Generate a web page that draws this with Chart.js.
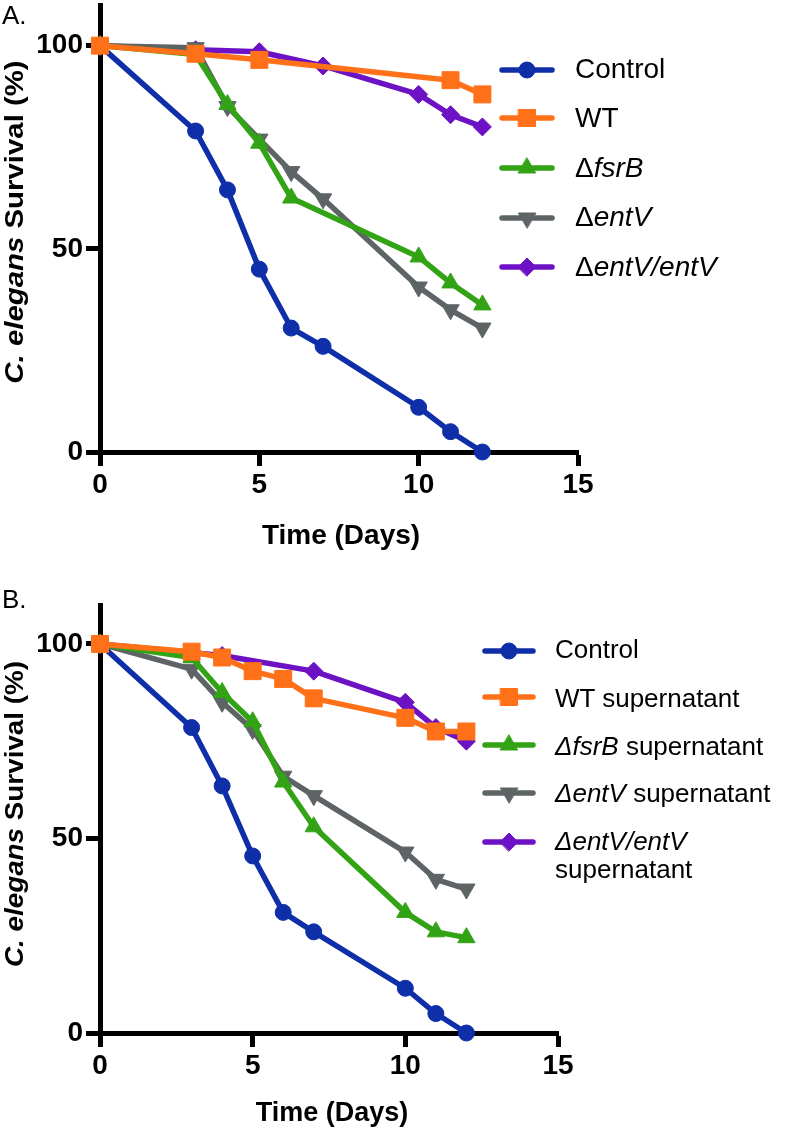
<!DOCTYPE html>
<html><head><meta charset="utf-8">
<script src="https://cdn.jsdelivr.net/npm/chart.js@4.4.1/dist/chart.umd.min.js"></script>
<style>
body{margin:0;width:793px;height:1128px;position:relative;background:#fff;font-family:'Liberation Sans',Arial,Helvetica,sans-serif;overflow:hidden}
canvas{position:absolute;left:0}
.t{position:absolute;white-space:nowrap;color:#000}
</style></head><body>
<canvas id="cA" width="793" height="564" style="top:0;width:793px;height:564px"></canvas>
<canvas id="cB" width="793" height="564" style="top:564px;width:793px;height:564px"></canvas>
<div id="overlay"></div>
<script>
// ---------- DATA ----------
const xTicks = [0, 5, 10, 15];
const yTicks = [0, 50, 100];

// Panel A
const controlA_days = [0, 3, 4, 5, 6, 7, 10, 11, 12];
const controlA_surv = [100, 79, 64.5, 45, 30.5, 26, 11, 5, 0];
const wtA_days = [0, 3, 5, 11, 12];
const wtA_surv = [100, 98, 96.5, 91.5, 88];
const fsrBA_days = [0, 3, 4, 5, 6, 10, 11, 12];
const fsrBA_surv = [100, 97.8, 85.5, 76, 62.5, 48, 41.6, 36.2];
const entVA_days = [0, 3, 4, 5, 6, 7, 10, 11, 12];
const entVA_surv = [100, 99.5, 85, 77, 69, 62.3, 40.6, 35, 30.5];
const compA_days = [0, 3, 5, 7, 10, 11, 12];
const compA_surv = [100, 99, 98.5, 95, 88, 83, 80];

// Panel B
const controlB_days = [0, 3, 4, 5, 6, 7, 10, 11, 12];
const controlB_surv = [100, 78.5, 63.5, 45.5, 31, 26, 11.5, 5, 0];
const wtB_days = [0, 3, 4, 5, 6, 7, 10, 11, 12];
const wtB_surv = [100, 98, 96.5, 93, 91, 86, 81, 77.5, 77.5];
const fsrBB_days = [0, 3, 4, 5, 6, 7, 10, 11, 12];
const fsrBB_surv = [100, 96.5, 87.5, 80, 64.5, 53, 31, 26, 24.5];
const entVB_days = [0, 3, 4, 5, 6, 7, 10, 11, 12];
const entVB_surv = [100, 93.5, 85, 78, 66, 61, 46.5, 39.5, 37];
const compB_days = [0, 4, 7, 10, 11, 12];
const compB_surv = [100, 97, 93, 85, 78.5, 75];

const labelsA = ['Control', 'WT', 'ΔfsrB', 'ΔentV', 'ΔentV/entV'];
const labelsB = ['Control', 'WT supernatant', 'ΔfsrB supernatant', 'ΔentV supernatant', 'ΔentV/entV supernatant'];
const legendHtmlA = ['Control', 'WT', 'Δ<i>fsrB</i>', 'Δ<i>entV</i>', 'Δ<i>entV/entV</i>'];
const legendHtmlB = ['Control', 'WT supernatant', '<i>ΔfsrB</i> supernatant', '<i>ΔentV</i> supernatant', '<i>ΔentV/entV</i><br>supernatant'];
const xTitle = 'Time (Days)';
const yTitleHtml = '<i>C. elegans</i> Survival (%)';

// ---------- STYLE ----------
const FONT = "'Liberation Sans', Arial, Helvetica, sans-serif";
const styles = [
  {color: '#0F2FA8', pointStyle: 'circle', radius: 8, rotation: 0, order: 1},
  {color: '#FF7119', pointStyle: 'rect', radius: 12, rotation: 0, order: 0},
  {color: '#33A316', pointStyle: 'triangle', radius: 10, rotation: 0, order: 2},
  {color: '#5E6466', pointStyle: 'triangle', radius: 10, rotation: 180, order: 3},
  {color: '#6C12C4', pointStyle: 'rectRot', radius: 9, rotation: 0, order: 4}
];

function pts(d, v) { return d.map((x, i) => ({x: x, y: v[i]})); }

const legendSymbols = {
  id: 'legendSymbols',
  afterDraw(chart, args, opts) {
    const ctx = chart.ctx;
    chart.data.datasets.forEach((ds, i) => {
      const y = opts.ys[i];
      ctx.save();
      ctx.strokeStyle = ds.borderColor;
      ctx.lineWidth = ds.borderWidth;
      ctx.lineCap = 'round';
      ctx.beginPath(); ctx.moveTo(opts.x0, y); ctx.lineTo(opts.x1, y); ctx.stroke();
      ctx.fillStyle = ds.pointBackgroundColor;
      ctx.strokeStyle = ds.pointBorderColor;
      ctx.lineWidth = 1;
      Chart.helpers.drawPoint(ctx, {pointStyle: ds.pointStyle, rotation: ds.pointRotation, radius: ds.pointRadius, borderWidth: 1}, (opts.x0 + opts.x1) / 2, y);
      ctx.restore();
    });
  }
};

function makeChart(id, series, labels, g) {
  const datasets = series.map((s, i) => {
    const st = styles[i];
    return {
      label: labels[i], data: pts(s[0], s[1]),
      borderColor: st.color, backgroundColor: st.color,
      pointBackgroundColor: st.color, pointBorderColor: st.color, pointBorderWidth: 1,
      borderWidth: 5.5, tension: 0, borderJoinStyle: 'round',
      pointStyle: st.pointStyle, pointRadius: st.radius, pointRotation: st.rotation,
      clip: false, order: st.order
    };
  });
  const tickFont = {family: FONT, size: 28, weight: 'bold'};
  const grid = {display: true, drawOnChartArea: false, drawTicks: true, tickLength: 14, tickWidth: 5, tickColor: '#000'};
  const border = {display: true, width: 5, color: '#000'};
  const zeroPad = s => { s.paddingLeft = 0; s.paddingRight = 0; s.paddingTop = 0; s.paddingBottom = 0; };
  return new Chart(document.getElementById(id), {
    type: 'line',
    data: {datasets},
    plugins: [legendSymbols],
    options: {
      responsive: false, animation: false, devicePixelRatio: 1,
      layout: {autoPadding: false, padding: {top: g.top, right: 793 - g.right, bottom: 0, left: 0}},
      plugins: {legend: {display: false}, tooltip: {enabled: false},
        legendSymbols: {x0: g.lx0, x1: g.lx1, ys: g.lys}},
      scales: {
        x: {type: 'linear', min: 0, max: 15,
          afterBuildTicks: s => { s.ticks = xTicks.map(v => ({value: v})); },
          ticks: {font: tickFont, color: '#000', padding: 2, maxRotation: 0, autoSkip: false},
          grid: grid, border: border,
          afterFit: s => { s.height = g.xh; zeroPad(s); }},
        y: {type: 'linear', min: 0, max: 110,
          afterBuildTicks: s => { s.ticks = yTicks.map(v => ({value: v})); },
          ticks: {font: tickFont, color: '#000', padding: 3},
          grid: grid, border: border,
          afterFit: s => { s.width = 100; zeroPad(s); }}
      }
    }
  });
}

makeChart('cA', [[controlA_days, controlA_surv], [wtA_days, wtA_surv], [fsrBA_days, fsrBA_surv], [entVA_days, entVA_surv], [compA_days, compA_surv]], labelsA,
  {top: 5, right: 578, xh: 112, lx0: 502, lx1: 552, lys: [70, 118, 168, 218, 267]});
makeChart('cB', [[controlB_days, controlB_surv], [wtB_days, wtB_surv], [fsrBB_days, fsrBB_surv], [entVB_days, entVB_surv], [compB_days, compB_surv]], labelsB,
  {top: 41, right: 558, xh: 95, lx0: 485, lx1: 533, lys: [87, 133, 181, 229, 278]});

// ---------- TEXT OVERLAY ----------
const ov = document.getElementById('overlay');
function addText(html, x, baseline, size, o) {
  o = o || {};
  const lh = o.lh || size;
  const d = document.createElement('div');
  d.className = 't';
  d.innerHTML = html;
  d.style.fontSize = size + 'px';
  d.style.lineHeight = lh + 'px';
  d.style.fontWeight = o.bold ? 'bold' : 'normal';
  const off = (lh - 1.117 * size) / 2 + 0.905 * size;
  d.style.top = (baseline - off) + 'px';
  d.style.left = x + 'px';
  if (o.center) d.style.transform = 'translateX(-50%)';
  ov.appendChild(d);
  return d;
}
function addYTitle(html, cx, cy, size, k) {
  const d = document.createElement('div');
  d.className = 't';
  d.innerHTML = html;
  d.style.fontSize = size + 'px';
  d.style.lineHeight = size + 'px';
  d.style.fontWeight = 'bold';
  d.style.left = (cx - 0.09 * size) + 'px';
  d.style.top = cy + 'px';
  d.style.transform = 'translate(-50%,-50%) rotate(-90deg) scaleX(' + k + ')';
  ov.appendChild(d);
}

addText('A.', 2, 24, 26);
addText('B.', 2, 608, 26);
addYTitle(yTitleHtml, 16.5, 222, 26, 1.13);
addYTitle(yTitleHtml, 16.5, 814, 26, 1.07);
addText(xTitle, 341, 545, 28, {bold: true, center: true});
addText(xTitle, 332, 1122, 27, {bold: true, center: true});

const legABase = [79, 128, 178, 227, 277];
legendHtmlA.forEach((h, i) => addText(h, 575, legABase[i], 28));
const legBBase = [658, 707, 755, 802, 850];
legendHtmlB.forEach((h, i) => addText(h, 555, legBBase[i], 26, {lh: 28}));
</script>
</body></html>
